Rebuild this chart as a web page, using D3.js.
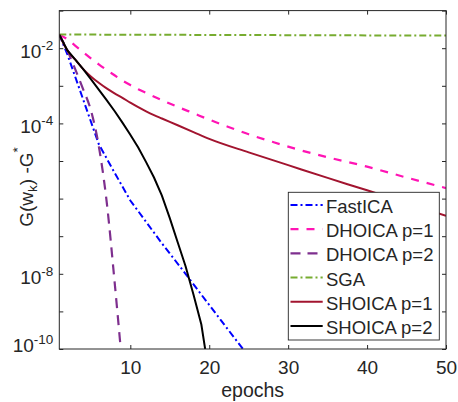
<!DOCTYPE html>
<html>
<head>
<meta charset="utf-8">
<script src="https://cdn.jsdelivr.net/npm/d3@7"></script>
<style>
  body { margin: 0; background: #fff; }
  text { font-family: "Liberation Sans", Arial, Helvetica, sans-serif; fill: #262626; }
</style>
</head>
<body>
<div id="chart"></div>
<script>
// epochs and log10 of the gap G(w_k) - G*
const fastIcaEpochs = [1, 2, 3, 4, 5, 6, 8, 10, 12, 14, 17, 20, 25];
const fastIcaLog = [-1.64, -2.15, -2.75, -3.35, -3.95, -4.55, -5.31, -6.05, -6.62, -7.19, -8.0, -8.83, -10.2];

const dhoica1Epochs = [1, 2, 3, 4, 5, 6, 7, 8, 9, 10, 11, 12, 14, 16, 18, 20, 22, 25, 28, 31, 35, 40, 45, 50];
const dhoica1Log = [-1.64, -1.76, -1.93, -2.1, -2.27, -2.43, -2.58, -2.72, -2.86, -2.98, -3.09, -3.19, -3.38, -3.56, -3.73, -3.9, -4.06, -4.29, -4.49, -4.68, -4.9, -5.15, -5.44, -5.72];

const dhoica2Epochs = [1, 2, 3, 4, 5, 6, 7, 8, 9];
const dhoica2Log = [-1.64, -2.05, -2.55, -3.08, -3.65, -4.6, -6.08, -8.2, -10.5];

const sgaEpochs = [1, 25, 50];
const sgaLog = [-1.636, -1.65, -1.665];

const shoica1Epochs = [1, 2, 3, 4, 5, 6, 7, 8, 9, 10, 11, 12, 13, 14, 15, 16, 18, 20, 25, 30, 35, 40, 45, 50];
const shoica1Log = [-1.64, -2.05, -2.3, -2.55, -2.75, -2.92, -3.07, -3.2, -3.32, -3.45, -3.57, -3.68, -3.78, -3.87, -3.96, -4.05, -4.23, -4.41, -4.77, -5.11, -5.45, -5.78, -6.12, -6.46];

const shoica2Epochs = [1, 2, 3, 4, 5, 6, 7, 8, 9, 10, 11, 12, 13, 14, 15, 16, 17, 18, 19, 20];
const shoica2Log = [-1.64, -2.05, -2.3, -2.55, -2.82, -3.1, -3.38, -3.67, -3.98, -4.3, -4.64, -5.03, -5.44, -5.92, -6.52, -7.16, -7.8, -8.55, -9.35, -10.7];

const seriesNames = ["FastICA", "DHOICA p=1", "DHOICA p=2", "SGA", "SHOICA p=1", "SHOICA p=2"];
const xTicks = [10, 20, 30, 40, 50];
const yDecades = [-10, -9, -8, -7, -6, -5, -4, -3, -2, -1];
// 10^-6 is left unlabelled, as in the original (the axis title sits there)
const yLabelled = [-10, -8, -4, -2];

// line styles for each series
const styles = [
  {color: "#0000ff", dash: "7,3,2,3", width: 2, curve: d3.curveLinear},
  {color: "#ff14b4", dash: "8,8", width: 2.2, curve: d3.curveMonotoneX},
  {color: "#7e2f8e", dash: "10,7", width: 2.2, curve: d3.curveMonotoneX},
  {color: "#77ac30", dash: "7,3,2,3", width: 2, curve: d3.curveLinear},
  {color: "#a2142f", dash: null, width: 2, curve: d3.curveMonotoneX},
  {color: "#000000", dash: null, width: 2, curve: d3.curveLinear}
];

const series = [
  [fastIcaEpochs, fastIcaLog],
  [dhoica1Epochs, dhoica1Log],
  [dhoica2Epochs, dhoica2Log],
  [sgaEpochs, sgaLog],
  [shoica1Epochs, shoica1Log],
  [shoica2Epochs, shoica2Log]
].map(([ep, lg], i) => ({
  name: seriesNames[i],
  style: styles[i],
  points: ep.map((e, j) => ({epoch: e, value: Math.pow(10, lg[j])}))
}));

// plot area (pixels)
const plotLeft = 59.3, plotRight = 446, plotTop = 10.6, plotBottom = 349;

const svg = d3.select("#chart")
  .append("svg")
  .attr("width", 458)
  .attr("height", 402);

const xScale = d3.scaleLinear()
  .domain([1, 50])
  .range([plotLeft, plotRight]);

const yScale = d3.scaleLog()
  .domain([1e-10, 1e-1])
  .range([plotBottom, plotTop]);

// clip lines to the axes box
svg.append("clipPath")
  .attr("id", "plot-clip")
  .append("rect")
  .attr("x", plotLeft)
  .attr("y", plotTop)
  .attr("width", plotRight - plotLeft)
  .attr("height", plotBottom - plotTop);

svg.append("g")
  .attr("clip-path", "url(#plot-clip)")
  .selectAll("path")
  .data(series)
  .join("path")
  .attr("fill", "none")
  .attr("stroke", d => d.style.color)
  .attr("stroke-width", d => d.style.width)
  .attr("stroke-dasharray", d => d.style.dash)
  .attr("d", d => d3.line()
    .curve(d.style.curve)
    .x(p => xScale(p.epoch))
    .y(p => yScale(p.value))(d.points));

// axes: ticks inside on all four sides
const tickLen = 4;

const xAxisBottom = svg.append("g")
  .attr("transform", `translate(0, ${plotBottom})`)
  .call(d3.axisBottom(xScale).tickValues(xTicks).tickSizeInner(-tickLen).tickSizeOuter(0).tickPadding(12));

xAxisBottom.selectAll("text")
  .style("font-size", "19px")
  .attr("fill", "#262626");

svg.append("g")
  .attr("transform", `translate(0, ${plotTop})`)
  .call(d3.axisTop(xScale).tickValues(xTicks).tickSizeInner(-tickLen).tickSizeOuter(0).tickFormat(""));

svg.append("g")
  .attr("transform", `translate(${plotLeft}, 0)`)
  .call(d3.axisLeft(yScale).tickValues(yDecades.map(e => Math.pow(10, e))).tickSizeInner(-tickLen).tickSizeOuter(0).tickFormat(""));

svg.append("g")
  .attr("transform", `translate(${plotRight}, 0)`)
  .call(d3.axisRight(yScale).tickValues(yDecades.map(e => Math.pow(10, e))).tickSizeInner(-tickLen).tickSizeOuter(0).tickFormat(""));

svg.selectAll(".domain").remove();
svg.selectAll(".tick line").attr("stroke", "#262626");

svg.append("rect")
  .attr("x", plotLeft)
  .attr("y", plotTop)
  .attr("width", plotRight - plotLeft)
  .attr("height", plotBottom - plotTop)
  .attr("fill", "none")
  .attr("stroke", "#262626")
  .attr("stroke-width", 1);

// y tick labels as 10^k
yLabelled.forEach(e => {
  const t = svg.append("text")
    .attr("x", plotLeft - 6)
    .attr("y", yScale(Math.pow(10, e)) + (e === -10 ? 3 : 10))
    .attr("text-anchor", "end")
    .style("font-size", "19px");
  t.append("tspan").text("10");
  t.append("tspan")
    .attr("dy", -8.3)
    .style("font-size", "13.5px")
    .text(String(e));
});

// axis labels
svg.append("text")
  .attr("x", (plotLeft + plotRight) / 2)
  .attr("y", 397)
  .attr("text-anchor", "middle")
  .style("font-size", "19.5px")
  .text("epochs");

const yLabel = svg.append("text")
  .attr("transform", "translate(32.5, 187) rotate(-90)")
  .attr("text-anchor", "middle")
  .style("font-size", "19px");
yLabel.append("tspan").text("G(w");
yLabel.append("tspan").attr("dy", 4).style("font-size", "13.5px").text("k");
yLabel.append("tspan").attr("dy", -4).text(") -G");
yLabel.append("tspan").attr("dy", -10.5).style("font-size", "13.5px").text("*");

// legend
const legend = svg.append("g");
const legendX = 288.3, legendY = 192.3, legendW = 151, legendH = 147.7;
const rowStart = 205, rowStep = 24.2;

legend.append("rect")
  .attr("x", legendX)
  .attr("y", legendY)
  .attr("width", legendW)
  .attr("height", legendH)
  .attr("fill", "#fff")
  .attr("stroke", "#262626")
  .attr("stroke-width", 0.9);

const rows = legend.selectAll("g.row")
  .data(series)
  .join("g")
  .attr("class", "row")
  .attr("transform", (d, i) => `translate(0, ${rowStart + i * rowStep})`);

rows.append("line")
  .attr("x1", 290.5)
  .attr("x2", 322.7)
  .attr("stroke", d => d.style.color)
  .attr("stroke-width", d => d.style.width)
  .attr("stroke-dasharray", d => d.style.dash);

rows.append("text")
  .attr("x", 326)
  .attr("y", 8)
  .style("font-size", "18.5px")
  .text(d => d.name);
</script>
</body>
</html>
